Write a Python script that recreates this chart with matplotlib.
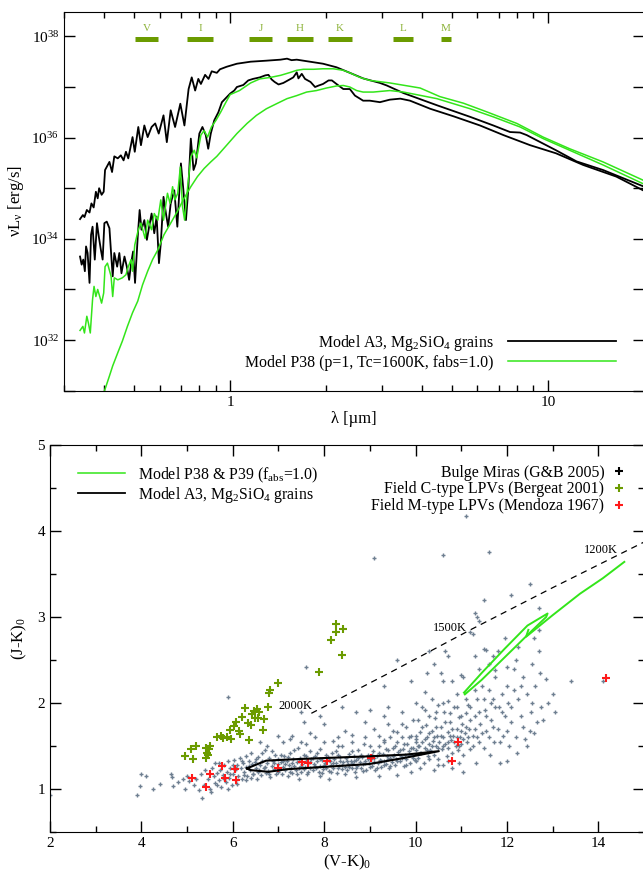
import numpy as np
import matplotlib
matplotlib.use('Agg')
import matplotlib.pyplot as plt
from matplotlib.lines import Line2D
from matplotlib.ticker import FixedLocator, NullFormatter

plt.rcParams['font.family'] = ['Liberation Serif', 'DejaVu Serif']
plt.rcParams['mathtext.fontset'] = 'custom'
plt.rcParams['mathtext.rm'] = 'Liberation Serif'
plt.rcParams['mathtext.it'] = 'Liberation Serif:italic'
plt.rcParams['mathtext.bf'] = 'Liberation Serif:bold'

# ---- SEDs: wavelength [um], log10(nu L_nu [erg/s]) ----
a3_max_lam = [0.337, 0.344, 0.348, 0.354, 0.361, 0.366, 0.372, 0.378, 0.383, 0.387, 0.394, 0.400,
              0.404, 0.417, 0.425, 0.432, 0.443, 0.453, 0.462, 0.470, 0.478, 0.493, 0.501, 0.514,
              0.524, 0.537, 0.550, 0.566, 0.581, 0.596, 0.617, 0.632, 0.650, 0.671, 0.697, 0.718,
              0.740, 0.757, 0.776, 0.794, 0.809, 0.834, 0.855, 0.875, 0.908, 0.929, 0.975, 1.05,
              1.16, 1.30, 1.44, 1.51, 1.56, 1.62, 1.74, 1.96, 2.16, 2.38, 2.62, 2.96, 3.11, 3.51,
              4.47, 5.69, 6.73, 7.60, 8.17, 8.57, 10.6, 12.3, 14.9, 19.9]
a3_max_logL = [34.39, 34.47, 34.43, 34.57, 34.52, 34.70, 34.62, 34.93, 34.80, 35.00, 34.87, 34.93,
               35.36, 35.52, 35.32, 35.63, 35.59, 35.65, 35.55, 35.72, 35.59, 36.01, 35.72, 36.21,
               35.85, 36.24, 36.01, 36.21, 36.28, 36.08, 36.44, 35.91, 36.54, 36.21, 36.67, 36.24,
               36.96, 37.19, 36.93, 37.16, 37.06, 37.24, 37.16, 37.31, 37.28, 37.35, 37.40, 37.46,
               37.50, 37.52, 37.54, 37.56, 37.53, 37.54, 37.51, 37.46, 37.39, 37.28, 37.17, 37.08,
               37.03, 36.88, 36.64, 36.41, 36.24, 36.11, 36.10, 36.05, 35.75, 35.53, 35.36, 35.04]

a3_min_lam = [0.337, 0.341, 0.345, 0.349, 0.352, 0.356, 0.361, 0.365, 0.369, 0.375, 0.381, 0.386,
              0.392, 0.397, 0.402, 0.409, 0.417, 0.422, 0.427, 0.432, 0.441, 0.448, 0.455, 0.465,
              0.473, 0.481, 0.488, 0.495, 0.502, 0.512, 0.519, 0.526, 0.537, 0.547, 0.556, 0.566,
              0.577, 0.587, 0.597, 0.605, 0.617, 0.628, 0.638, 0.650, 0.667, 0.682, 0.700, 0.711,
              0.726, 0.738, 0.752, 0.767, 0.780, 0.800, 0.818, 0.838, 0.853, 0.869, 0.891, 0.918,
              0.942, 1.00, 1.03, 1.05, 1.10, 1.14, 1.18, 1.24, 1.29, 1.32, 1.35, 1.38, 1.42, 1.47,
              1.55, 1.58, 1.62, 1.64, 1.68, 1.72, 1.79, 1.85, 1.90, 1.96, 2.04, 2.09, 2.16, 2.27,
              2.38, 2.47, 2.56, 2.62, 2.75, 2.96, 3.18, 3.43, 3.68, 4.26, 5.05, 6.11, 7.24, 8.79,
              10.6, 12.9, 16.4, 19.9]
a3_min_logL = [33.65, 33.49, 33.59, 33.36, 33.85, 33.72, 33.13, 34.08, 34.24, 33.59, 34.31, 34.05,
               33.78, 33.59, 34.31, 34.34, 34.21, 33.72, 33.26, 33.72, 33.45, 33.72, 33.32, 33.65,
               33.45, 33.19, 33.52, 33.75, 33.13, 34.05, 34.57, 34.18, 34.37, 33.98, 34.24, 34.50,
               34.11, 34.44, 33.52, 33.91, 34.83, 34.50, 34.24, 34.70, 34.96, 34.24, 35.49, 35.03,
               34.37, 34.96, 35.98, 35.36, 35.49, 36.08, 36.21, 36.05, 35.78, 36.08, 36.34, 36.50,
               36.70, 36.87, 36.93, 37.00, 37.04, 37.13, 37.16, 37.19, 37.23, 37.24, 37.15, 37.10,
               37.05, 37.08, 37.16, 37.19, 37.29, 37.17, 37.26, 37.16, 37.10, 37.00, 37.03, 37.06,
               37.13, 37.13, 37.06, 36.96, 36.96, 36.83, 36.77, 36.73, 36.73, 36.70, 36.75, 36.77,
               36.73, 36.57, 36.42, 36.24, 36.05, 35.85, 35.69, 35.46, 35.23, 34.96]

p38_max_lam = [0.337, 0.344, 0.348, 0.354, 0.358, 0.363, 0.369, 0.373, 0.378, 0.383, 0.394, 0.400,
               0.404, 0.411, 0.422, 0.427, 0.432, 0.443, 0.458, 0.470, 0.478, 0.488, 0.493, 0.501,
               0.514, 0.524, 0.540, 0.550, 0.566, 0.577, 0.592, 0.605, 0.617, 0.635, 0.647, 0.659,
               0.670, 0.684, 0.697, 0.708, 0.719, 0.735, 0.752, 0.771, 0.785, 0.809, 0.828, 0.849,
               0.873, 0.902, 0.933, 0.966, 1.00, 1.07, 1.16, 1.24, 1.34, 1.44, 1.55, 1.62, 1.70,
               1.83, 1.96, 2.11, 2.27, 2.38, 2.56, 2.75, 3.18, 3.96, 4.57, 5.42, 6.41, 7.98, 9.66,
               11.7, 14.9, 19.9]
p38_max_logL = [32.19, 32.27, 32.14, 32.47, 32.34, 32.14, 32.80, 33.06, 32.86, 33.00, 32.73, 32.93,
                33.45, 33.52, 33.26, 32.86, 33.23, 33.19, 33.23, 33.29, 33.45, 33.59, 33.36, 33.88,
                34.18, 34.31, 34.01, 34.37, 34.18, 34.50, 34.37, 34.77, 34.37, 34.90, 34.70, 35.03,
                34.77, 34.90, 35.42, 34.64, 34.37, 35.03, 35.62, 35.75, 35.60, 36.05, 36.14, 36.01,
                36.21, 36.34, 36.50, 36.68, 36.85, 36.93, 37.08, 37.16, 37.19, 37.23, 37.29, 37.33,
                37.35, 37.35, 37.36, 37.36, 37.33, 37.28, 37.19, 37.13, 37.08, 36.98, 36.81, 36.68,
                36.51, 36.28, 36.01, 35.78, 35.52, 35.16]

p38_min_lam = [0.394, 0.404, 0.417, 0.427, 0.443, 0.458, 0.475, 0.493, 0.512, 0.530, 0.550, 0.570,
               0.592, 0.619, 0.650, 0.682, 0.716, 0.752, 0.789, 0.828, 0.869, 0.908, 0.975, 1.05,
               1.13, 1.21, 1.30, 1.40, 1.51, 1.62, 1.74, 1.87, 2.01, 2.16, 2.27, 2.38, 2.50, 2.62,
               2.82, 3.18, 3.51, 4.47, 5.69, 6.73, 8.17, 9.66, 11.7, 14.9, 19.9]
p38_min_logL = [30.85, 31.03, 31.29, 31.49, 31.75, 31.98, 32.27, 32.54, 32.77, 33.09, 33.36, 33.59,
                33.78, 34.08, 34.31, 34.54, 34.80, 35.03, 35.23, 35.39, 35.52, 35.63, 35.85, 36.08,
                36.28, 36.44, 36.57, 36.67, 36.77, 36.83, 36.90, 36.93, 36.98, 37.02, 37.03, 37.00,
                36.93, 36.90, 36.90, 36.93, 36.90, 36.77, 36.57, 36.41, 36.21, 35.98, 35.75, 35.46,
                35.09]

# photometric bands: name, lower and upper wavelength [um]
band_names = ['V', 'I', 'J', 'H', 'K', 'L', 'M']
band_lo = [0.503, 0.732, 1.147, 1.51, 2.03, 3.26, 4.61]
band_hi = [0.594, 0.884, 1.356, 1.82, 2.42, 3.76, 4.95]

# ---- colour-colour diagram ----
mira_vk = [2.0, 3.9, 3.97, 4.0, 4.1, 4.25, 4.4, 4.65, 4.67, 4.7, 4.8, 4.9, 4.95, 5.0, 5.05, 5.15,
           5.2, 5.25, 5.3, 5.33, 5.38, 5.4, 5.45, 5.5, 5.52, 5.55, 5.58, 5.6, 5.62, 5.65, 5.7, 5.72,
           5.75, 5.78, 5.8, 5.85, 5.88, 5.9, 5.92, 5.95, 5.98, 6.0, 6.02, 6.05, 6.08, 6.1, 6.12,
           6.15, 6.18, 6.2, 6.22, 6.25, 6.28, 6.3, 6.32, 6.35, 6.38, 6.4, 6.42, 6.45,
           6.45, 6.48, 6.5, 6.52, 6.55, 6.58, 6.6, 6.62, 6.65, 6.68, 6.7, 6.72, 6.75, 6.78, 6.8,
           6.82, 6.85, 6.88, 6.9, 6.92, 6.95, 6.98, 7.0, 7.0, 6.75, 6.6, 7.02,
           7.05, 7.08, 7.1, 7.12, 7.15, 7.18, 7.2, 7.22, 7.25, 7.28, 7.3, 7.32, 7.35, 7.38, 7.4,
           7.42, 7.45, 7.48, 7.5, 7.52, 7.55, 7.58, 7.6, 7.62, 7.65, 7.68, 7.7, 7.72, 7.75, 7.78,
           7.8, 7.82, 7.85, 7.88, 7.9, 7.92, 7.95, 7.98, 7.5, 7.25, 7.8, 7.45, 7.9,
           8.02, 8.05, 8.08, 8.1, 8.12, 8.15, 8.18, 8.2, 8.22, 8.25, 8.28, 8.3, 8.32, 8.35, 8.38,
           8.4, 8.42, 8.45, 8.48, 8.5, 8.52, 8.55, 8.58, 8.6, 8.62, 8.65, 8.68, 8.7, 8.72, 8.75,
           8.78, 8.8, 8.82, 8.85, 8.88, 8.9, 8.92, 8.95, 8.98, 8.3, 8.6, 8.1, 8.7, 8.2,
           9.02, 9.05, 9.08, 9.1, 9.12, 9.15, 9.18, 9.2, 9.22, 9.25, 9.28, 9.3, 9.32, 9.35, 9.38,
           9.4, 9.42, 9.45, 9.48, 9.5, 9.52, 9.55, 9.58, 9.6, 9.62, 9.65, 9.68, 9.7, 9.72, 9.75,
           9.78, 9.8, 9.82, 9.85, 9.88, 9.9, 9.92, 9.95, 9.98, 9.1, 9.4, 9.6, 9.2, 9.9, 9.8, 9.5,
           10.0, 10.02, 10.05, 10.08, 10.1, 10.12, 10.15, 10.18, 10.2, 10.22, 10.25, 10.28, 10.3,
           10.32, 10.35, 10.38, 10.4, 10.42, 10.45, 10.48, 10.5, 10.52, 10.55, 10.58, 10.6, 10.62,
           10.65, 10.68, 10.7, 10.72, 10.75, 10.78, 10.8, 10.82, 10.85, 10.88, 10.9, 10.92, 10.95,
           10.98, 11.0, 11.02, 11.05, 11.08, 11.1, 11.12, 11.15, 11.18, 11.2, 10.1, 10.3, 10.5,
           10.7, 10.9, 10.4, 10.6, 10.2, 10.05, 10.8, 11.0, 10.55, 10.25, 10.65, 10.7, 10.8, 11.05,
           11.25, 11.3, 11.32, 11.35, 11.4, 11.42, 11.45, 11.5, 11.52, 11.55, 11.6, 11.62, 11.65,
           11.7, 11.72, 11.75, 11.8, 11.82, 11.85, 11.9, 11.92, 11.95, 12.0, 12.02, 12.05, 12.1,
           12.15, 12.2, 12.22, 12.25, 12.3, 12.35, 12.4, 12.45, 12.5, 12.52, 12.55, 12.6, 12.62,
           12.65, 12.7, 12.72, 12.75, 12.85, 12.8, 12.6, 12.2, 11.6, 11.3, 11.55, 11.8, 11.95,
           12.7, 11.25, 11.4, 11.5, 11.05, 11.2, 11.7, 12.0,
           11.1, 9.1, 10.6, 11.6, 12.5, 12.1, 11.5, 11.3, 12.7, 13.4, 14.1, 13.05, 12.0, 11.75,
           10.3, 9.6, 9.9, 9.3, 8.7, 8.4, 7.6, 7.5, 7.55, 5.9, 7.9, 8.0, 9.0, 9.4, 10.0, 10.2,
           10.4, 10.6, 11.4, 11.35, 11.75, 12.25, 12.9, 13.0,
           6.35, 6.5, 6.55, 6.65, 6.7, 6.8, 6.85, 6.9, 7.0, 7.05, 7.1, 7.15, 7.2, 7.25, 7.3, 7.35,
           7.4, 7.45, 7.5, 7.55, 7.6, 7.65, 7.7, 7.75, 7.8, 7.85, 7.9, 7.95, 8.0, 8.05, 8.1, 8.15,
           8.2, 8.25, 8.3, 8.35, 8.4, 8.45, 8.5, 8.55, 8.6, 8.65, 8.7, 8.75, 8.8, 8.85, 8.9, 8.95,
           9.0, 9.05, 9.1, 9.15, 9.2, 9.25, 9.3, 9.35, 9.4, 9.45, 9.5, 9.55, 9.6, 9.65, 9.7, 9.75,
           9.8, 9.85, 9.9, 9.95, 10.0, 10.0,
           7.1, 7.3, 7.6, 7.7, 8.0, 8.3, 8.45, 8.6, 8.9, 9.0, 9.2, 9.3, 9.45, 9.6, 9.7, 9.85, 9.95,
           9.3, 8.9, 9.7,
           10.0, 10.05, 10.1, 10.15, 10.2, 10.25, 10.3, 10.35, 10.4, 10.45, 10.5, 10.55, 10.6,
           10.65, 10.7, 10.75, 10.8, 10.85, 10.9, 10.95, 11.0, 11.05, 11.1, 11.15, 11.2, 11.25,
           11.3, 11.35, 11.4, 11.45, 10.15, 10.35, 10.45, 10.6, 10.75, 10.9, 11.0, 11.1, 11.2,
           11.3, 11.5, 11.55, 11.6, 11.65, 11.7, 11.85, 11.9, 12.0, 12.1, 12.15, 12.3, 12.35,
           12.45, 12.55, 10.3, 10.5, 10.7, 10.95,
           5.65, 5.8, 5.9, 6.0, 6.1, 6.2, 6.3, 6.25, 5.95, 6.05, 5.7, 6.4]
mira_jk = [0.93, 0.93, 1.03, 1.17, 1.15, 1.0, 1.06, 1.18, 1.14, 1.03, 1.08, 1.12, 1.0, 1.15, 1.09,
           1.05, 1.12, 0.99, 1.17, 0.9, 1.05, 1.22, 1.12, 1.0, 0.97, 1.25, 1.15, 1.07, 1.3, 1.19,
           1.1, 1.22, 1.02, 1.16, 1.28, 1.08, 1.2, 1.32, 1.13, 1.25, 1.05, 1.18, 1.34, 1.22, 1.1,
           1.28, 1.15, 1.36, 1.24, 1.12, 1.3, 1.2, 1.38, 1.26, 1.15, 1.33, 1.22, 1.42, 1.29, 1.18,
           1.18, 1.31, 1.25, 1.12, 1.37, 1.22, 1.28, 1.16, 1.33, 1.24, 1.45, 1.19, 1.3, 1.21, 1.36,
           1.14, 1.27, 1.33, 1.23, 1.4, 1.17, 1.29, 1.35, 1.62, 1.5, 1.55, 1.22,
           1.31, 1.18, 1.26, 1.38, 1.22, 1.33, 1.15, 1.28, 1.42, 1.25, 1.19, 1.35, 1.27, 1.22, 1.31,
           1.48, 1.24, 1.36, 1.2, 1.29, 1.4, 1.26, 1.33, 1.18, 1.3, 1.25, 1.44, 1.35, 1.22, 1.29,
           1.38, 1.24, 1.32, 1.2, 1.27, 1.46, 1.34, 1.23, 1.55, 1.58, 1.6, 1.12, 1.15,
           1.3, 1.25, 1.37, 1.21, 1.33, 1.28, 1.42, 1.24, 1.35, 1.3, 1.19, 1.39, 1.27, 1.33, 1.23,
           1.5, 1.31, 1.26, 1.36, 1.22, 1.29, 1.41, 1.33, 1.25, 1.3, 1.38, 1.2, 1.34, 1.27, 1.45,
           1.31, 1.24, 1.37, 1.29, 1.52, 1.33, 1.22, 1.4, 1.3, 1.6, 1.63, 1.12, 1.14, 1.56,
           1.35, 1.27, 1.44, 1.31, 1.22, 1.38, 1.3, 1.5, 1.34, 1.26, 1.41, 1.33, 1.57, 1.29, 1.38,
           1.45, 1.24, 1.36, 1.31, 1.48, 1.4, 1.28, 1.35, 1.55, 1.43, 1.32, 1.38, 1.6, 1.47, 1.27,
           1.4, 1.35, 1.52, 1.44, 1.3, 1.62, 1.39, 1.48, 1.34, 1.7, 1.75, 1.16, 1.15, 1.2, 1.72, 1.68,
           1.45, 1.58, 1.36, 1.5, 1.66, 1.42, 1.55, 1.3, 1.48, 1.74, 1.6, 1.38, 1.52, 1.45, 1.68,
           1.56, 1.4, 1.82, 1.5, 1.62, 1.35, 1.55, 1.72, 1.46, 1.6, 1.9, 1.52, 1.38, 1.66, 1.48,
           1.78, 1.57, 1.42, 1.62, 1.95, 1.5, 1.7, 1.45, 1.84, 1.6, 1.52, 1.75, 1.4, 1.65, 1.88,
           1.55, 1.98, 1.7, 1.46, 1.25, 1.85, 1.98, 2.02, 2.1, 1.22, 1.28, 1.92, 1.8, 2.25, 2.32,
           2.35, 2.35, 2.6, 2.55, 1.25, 1.2,
           1.62, 1.85, 1.3, 2.05, 1.55, 1.75, 2.2, 1.48, 1.92, 1.68, 2.15, 1.4, 1.8, 2.05, 1.55,
           2.3, 1.7, 1.95, 1.3, 2.1, 1.62, 1.85, 2.2, 2.0, 1.5, 1.78, 2.4, 1.6, 1.42, 2.05, 1.85,
           2.3, 1.58, 2.1, 1.68, 1.9, 2.45, 1.65, 2.2, 1.78, 2.6, 2.35, 1.95, 2.28, 1.8, 2.75, 2.5,
           2.45, 2.55, 2.62, 2.6, 2.75, 2.85, 2.8, 2.95, 2.63, 2.3, 2.82, 2.55, 2.42,
           4.17, 3.68, 3.72, 3.76, 3.38, 3.25, 3.2, 3.05, 3.1, 2.25, 2.25, 1.9, 1.32, 1.95, 2.6,
           2.5, 2.25, 2.2, 1.9, 1.95, 2.42, 1.9, 1.78, 2.07, 1.85, 1.75, 1.92, 1.95, 2.0, 2.13,
           2.45, 2.25, 2.4, 3.0, 2.38, 2.65, 2.0, 2.1,
           1.27, 1.35, 1.2, 1.42, 1.26, 1.18, 1.44, 1.3, 1.2, 1.4, 1.33, 1.29, 1.37, 1.2, 1.3, 1.45,
           1.17, 1.32, 1.27, 1.23, 1.38, 1.2, 1.31, 1.36, 1.27, 1.42, 1.35, 1.19, 1.28, 1.4, 1.34,
           1.2, 1.3, 1.44, 1.24, 1.37, 1.28, 1.18, 1.33, 1.26, 1.44, 1.32, 1.25, 1.36, 1.4, 1.21,
           1.3, 1.35, 1.26, 1.4, 1.36, 1.25, 1.42, 1.33, 1.28, 1.46, 1.35, 1.27, 1.38, 1.5, 1.32,
           1.45, 1.36, 1.52, 1.28, 1.4, 1.48, 1.36, 1.55, 1.32,
           1.55, 1.62, 1.52, 1.65, 1.55, 1.5, 1.68, 1.55, 1.6, 1.5, 1.62, 1.55, 1.6, 1.66, 1.75,
           1.6, 1.8, 1.85, 1.78, 1.9,
           1.62, 1.5, 1.42, 1.72, 1.58, 1.45, 1.65, 1.5, 1.6, 1.72, 1.48, 1.62, 1.5, 1.78, 1.55,
           1.62, 1.7, 1.55, 1.6, 1.5, 1.68, 1.58, 1.72, 1.6, 1.8, 1.5, 1.7, 1.6, 1.9, 1.65, 1.95,
           2.05, 1.9, 2.0, 1.88, 1.95, 1.85, 2.05, 1.95, 2.15, 2.05, 1.85, 1.6, 2.0, 1.72, 1.55,
           1.9, 1.68, 1.95, 2.15, 2.2, 1.72, 1.5, 2.0, 1.35, 1.28, 1.32, 1.3,
           1.05, 1.12, 1.0, 1.28, 1.06, 1.32, 1.1, 1.16, 1.18, 1.26, 1.3, 1.13]

ctype_vk = [4.96, 5.08, 5.19, 5.14, 5.41, 5.44, 5.48, 5.50, 5.45, 5.41, 5.66, 5.75, 5.79, 5.88,
            5.97, 5.93, 6.03, 6.06, 6.13, 6.15, 6.36, 6.20, 6.27, 6.33, 6.39, 6.42, 6.46, 6.53,
            6.57, 6.48, 6.55, 6.69, 6.78, 6.67, 6.79, 6.81, 6.99, 7.89, 8.15, 8.25, 8.25, 8.41, 8.38]
ctype_jk = [1.38, 1.47, 1.50, 1.35, 1.48, 1.42, 1.46, 1.50, 1.39, 1.36, 1.60, 1.62, 1.59, 1.60,
            1.58, 1.69, 1.73, 1.78, 1.67, 1.64, 1.57, 1.84, 1.94, 1.77, 1.74, 1.87, 1.91, 1.93,
            1.90, 1.83, 1.82, 1.81, 1.95, 1.69, 2.12, 2.15, 2.23, 2.36, 2.73, 2.82, 2.92, 2.86, 2.56]

mtype_vk = [5.10, 5.41, 5.50, 5.76, 5.82, 6.04, 6.08, 6.99, 7.52, 7.65, 8.06, 9.03, 10.79, 10.94, 14.16]
mtype_jk = [1.13, 1.02, 1.18, 1.27, 1.13, 1.23, 1.11, 1.25, 1.31, 1.30, 1.33, 1.36, 1.33, 1.55, 2.29]

# model tracks
p38_vk = [11.06, 11.45, 11.95, 12.45, 12.89, 12.86, 12.45, 11.95, 11.45, 11.08]
p38_jk = [2.12, 2.35, 2.63, 2.90, 3.04, 3.00, 2.79, 2.53, 2.27, 2.10]
p39_vk = [12.47, 12.42, 13.0, 13.6, 14.1, 14.57]
p39_jk = [2.85, 2.77, 3.02, 3.27, 3.45, 3.64]
a3_vk = [6.31, 6.73, 7.5, 8.98, 9.79, 10.51, 9.74, 8.98, 8.08, 7.18, 6.78, 6.39, 6.31]
a3_jk = [1.24, 1.33, 1.35, 1.38, 1.40, 1.44, 1.36, 1.29, 1.26, 1.23, 1.20, 1.22, 1.24]

# blackbody line with temperature marks
bb_vk = [7.72, 9.5, 11.2, 13.0, 15.0]
bb_jk = [1.88, 2.37, 2.85, 3.34, 3.87]
bb_labels = ['2000K', '1500K', '1200K']
bb_label_vk = [7.75, 11.12, 14.42]
bb_label_jk = [1.97, 2.87, 3.78]

GREEN = '#33e51a'
OLIVE = '#6b9b00'
FS = 11.4

fig = plt.figure(figsize=(6.43, 8.74), dpi=100)

# ---------- upper panel: spectral energy distributions ----------
ax1 = fig.add_axes([0.0995, 0.553, 0.9015, 0.433])
ax1.plot(a3_max_lam, 10 ** np.array(a3_max_logL), color='black', lw=1.3)
ax1.plot(a3_min_lam, 10 ** np.array(a3_min_logL), color='black', lw=1.3)
ax1.plot(p38_max_lam, 10 ** np.array(p38_max_logL), color=GREEN, lw=1.1)
ax1.plot(p38_min_lam, 10 ** np.array(p38_min_logL), color=GREEN, lw=1.1)

ax1.set_xscale('log')
ax1.set_yscale('log')
ax1.set_xlim(0.3, 20)
ax1.set_ylim(1e31, 3e38)

for name, lo, hi in zip(band_names, band_lo, band_hi):
    ax1.hlines(9.0e37, lo, hi, color=OLIVE, lw=3.6)
    ax1.text(np.sqrt(lo * hi), 1.45e38, name, color='#8db33a', fontsize=8,
             ha='center', va='center')

ax1.xaxis.set_major_locator(FixedLocator([1, 10]))
ax1.set_xticklabels(['1', '10'])
ax1.xaxis.set_minor_locator(FixedLocator([0.3, 0.4, 0.5, 0.6, 0.7, 0.8, 0.9,
                                          2, 3, 4, 5, 6, 7, 8, 9, 20]))
ax1.xaxis.set_minor_formatter(NullFormatter())
yt = [10.0 ** e for e in range(31, 39)]
ax1.yaxis.set_major_locator(FixedLocator(yt))
ax1.set_yticklabels([r'10$^{%d}$' % e if e % 2 == 0 else '' for e in range(31, 39)])
ax1.yaxis.set_minor_locator(FixedLocator([]))
ax1.tick_params(which='both', direction='in', top=True, right=True, labelsize=11)
ax1.tick_params(which='major', length=8, width=1)
ax1.tick_params(which='minor', length=4, width=1)
ax1.set_xlabel(r'λ [µm]', fontsize=12, labelpad=2)
ax1.set_ylabel(r'νL$_{\mathrm{ν}}$ [erg/s]', fontsize=12, labelpad=4)

h1 = [Line2D([], [], color='black', lw=1.3), Line2D([], [], color=GREEN, lw=1.1)]
ax1.legend(h1, [r'Model A3, Mg$_2$SiO$_4$ grains', 'Model P38 (p=1, Tc=1600K, fabs=1.0)'],
           loc='lower right', bbox_to_anchor=(0.952, 0.053), borderaxespad=0, borderpad=0,
           frameon=False, markerfirst=False, handlelength=6.8, handletextpad=0.9,
           labelspacing=0.1, fontsize=FS)

# ---------- lower panel: colour-colour diagram ----------
ax2 = fig.add_axes([0.0778, 0.048, 0.9237, 0.443])
ax2.plot(mira_vk, mira_jk, ls='none', marker='+', ms=3.2, mew=1.0, color='#6e7f91')
ax2.plot(bb_vk, bb_jk, ls=(0, (5, 4)), color='black', lw=0.9)
for lab, x, y in zip(bb_labels, bb_label_vk, bb_label_jk):
    ax2.text(x, y, lab, fontsize=9, ha='right', va='center')
ax2.plot(ctype_vk, ctype_jk, ls='none', marker='+', ms=5.5, mew=1.5, color=OLIVE)
ax2.plot(mtype_vk, mtype_jk, ls='none', marker='+', ms=5.5, mew=1.5, color='#ff1a1a')
ax2.plot(a3_vk, a3_jk, color='black', lw=1.5)
ax2.plot(p38_vk, p38_jk, color=GREEN, lw=1.4)
ax2.plot(p39_vk, p39_jk, color=GREEN, lw=1.4)

ax2.set_xlim(2, 15)
ax2.set_ylim(0.5, 5)
ax2.set_xticks([2, 4, 6, 8, 10, 12, 14])
ax2.set_xticks([3, 5, 7, 9, 11, 13, 15], minor=True)
ax2.set_yticks([1, 2, 3, 4, 5])
ax2.set_yticks([0.5, 1.5, 2.5, 3.5, 4.5], minor=True)
ax2.tick_params(which='both', direction='in', top=True, right=True, labelsize=11)
ax2.tick_params(which='major', length=8, width=1)
ax2.tick_params(which='minor', length=4, width=1)
ax2.set_xlabel(r'(V-K)$_0$', fontsize=12, labelpad=2)
ax2.set_ylabel(r'(J-K)$_0$', fontsize=12, labelpad=6)

h2 = [Line2D([], [], color=GREEN, lw=1.1), Line2D([], [], color='black', lw=1.3)]
leg2 = ax2.legend(h2, [r'Model P38 & P39 (f$_{\mathrm{abs}}$=1.0)',
                       r'Model A3, Mg$_2$SiO$_4$ grains'],
                  loc='upper left', bbox_to_anchor=(0.047, 0.947), borderaxespad=0,
                  borderpad=0, frameon=False, handlelength=3.0, handletextpad=0.8,
                  labelspacing=0.0, fontsize=FS)
ax2.add_artist(leg2)

h3 = [Line2D([], [], ls='none', marker='+', ms=5.5, mew=1.5, color=c)
      for c in ['black', OLIVE, '#ff1a1a']]
ax2.legend(h3, ['Bulge Miras (G&B 2005)', 'Field C-type LPVs (Bergeat 2001)',
                'Field M-type LPVs (Mendoza 1967)'],
           loc='upper right', bbox_to_anchor=(0.968, 0.949), borderaxespad=0, borderpad=0,
           frameon=False, markerfirst=False, handlelength=0.8, handletextpad=0.5,
           labelspacing=0.05, fontsize=FS)

fig.savefig('out.png', dpi=100)
